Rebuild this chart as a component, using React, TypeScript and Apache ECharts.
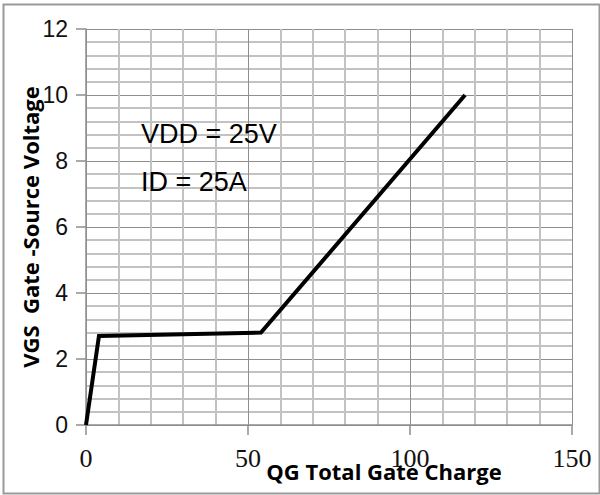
import React, { useEffect, useRef } from "react";
import * as echarts from "echarts";

const qgPoints: number[] = [0, 4, 54, 117];
const vgsPoints: number[] = [0, 2.7, 2.8, 10];
const annotationLines: string[] = ["VDD = 25V", "ID = 25A"];
const xAxisTitle = "QG Total Gate Charge";
const yAxisTitle = "VGS  Gate -Source Voltage";

export default function App() {
  const ref = useRef<HTMLDivElement>(null);
  useEffect(() => {
    if (!ref.current) return;
    const chart = echarts.init(ref.current, null, { renderer: "svg" });
    const data = qgPoints.map((x, i) => [x, vgsPoints[i]]);
    const major = "#8e8e8e";
    const minor = "#c2c2c2";
    chart.setOption({
      animation: false,
      backgroundColor: "#ffffff",
      grid: { left: 86, right: 28, top: 29, bottom: 70, containLabel: false },
      xAxis: {
        type: "value",
        min: 0,
        max: 150,
        interval: 50,
        axisLine: { show: true, onZero: false, lineStyle: { color: major, width: 1.5 } },
        axisTick: { show: true, length: 10, lineStyle: { color: major, width: 1.5 } },
        axisLabel: {
          margin: 20,
          fontFamily: "Liberation Serif",
          fontSize: 26,
          color: "#111",
        },
        splitLine: { show: true, lineStyle: { color: major, width: 1 } },
        minorTick: { show: false, splitNumber: 5 },
        minorSplitLine: { show: true, lineStyle: { color: minor, width: 2 } },
      },
      yAxis: {
        type: "value",
        min: 0,
        max: 12,
        interval: 2,
        axisLine: { show: true, onZero: false, lineStyle: { color: major, width: 1.5 } },
        axisTick: { show: true, length: 10, lineStyle: { color: major, width: 1.5 } },
        axisLabel: {
          margin: 18,
          fontFamily: "Liberation Sans",
          fontSize: 23,
          color: "#111",
        },
        splitLine: { show: true, lineStyle: { color: major, width: 1 } },
        minorTick: { show: false, splitNumber: 5 },
        minorSplitLine: { show: true, lineStyle: { color: minor, width: 2 } },
      },
      series: [
        {
          type: "line",
          data,
          showSymbol: false,
          symbol: "none",
          lineStyle: { color: "#000", width: 4, join: "miter" },
          z: 5,
        },
      ],
      graphic: [
        {
          type: "rect",
          shape: { x: 3.5, y: 4.5, width: 596, height: 489 },
          style: { fill: "none", stroke: "#9a9a9a", lineWidth: 2 },
          silent: true,
          z: 100,
        },
        {
          type: "text",
          x: 141,
          y: 134,
          style: {
            text: annotationLines[0],
            fontFamily: "Liberation Sans",
            fontSize: 27,
            fill: "#000",
            align: "left",
            verticalAlign: "middle",
          },
          z: 50,
        },
        {
          type: "text",
          x: 141,
          y: 182,
          style: {
            text: annotationLines[1],
            fontFamily: "Liberation Sans",
            fontSize: 27,
            fill: "#000",
            align: "left",
            verticalAlign: "middle",
          },
          z: 50,
        },
        {
          type: "text",
          x: 384,
          y: 471,
          style: {
            text: xAxisTitle,
            fontFamily: "Open Sans",
            fontWeight: "bold",
            fontSize: 22,
            fill: "#000",
            align: "center",
            verticalAlign: "middle",
          },
          z: 50,
        },
        {
          type: "text",
          x: 30,
          y: 227,
          rotation: Math.PI / 2,
          style: {
            text: yAxisTitle,
            fontFamily: "Open Sans",
            fontWeight: "bold",
            fontSize: 22,
            fill: "#000",
            align: "center",
            verticalAlign: "middle",
          },
          z: 50,
        },
      ],
    });
    return () => chart.dispose();
  }, []);
  return (
    <div
      ref={ref}
      style={{ position: "fixed", left: 0, top: 0, width: 600, height: 495, background: "#fff" }}
    />
  );
}
